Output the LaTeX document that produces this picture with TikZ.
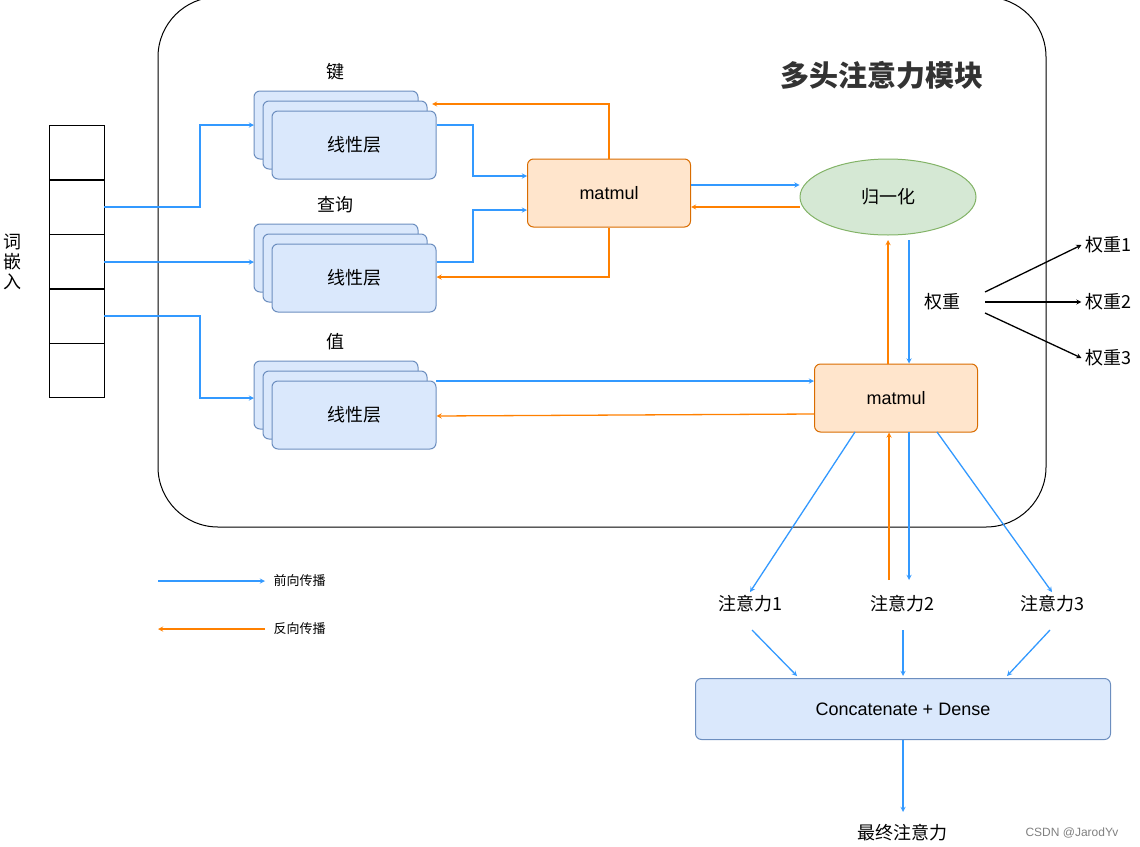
\documentclass[tikz,border=0pt]{standalone}
\usepackage{fontspec}
\setmainfont{Liberation Sans}
\newfontfamily\cjk{Noto Sans CJK SC}
\usetikzlibrary{positioning, shapes.geometric}
\definecolor{fwdblue}{HTML}{3399FF}
\definecolor{bwdorange}{HTML}{FF8000}
\definecolor{layerfill}{HTML}{DAE8FC}
\definecolor{layerdraw}{HTML}{6C8EBF}
\definecolor{normfill}{HTML}{D5E8D4}
\definecolor{normdraw}{HTML}{82B366}
\tikzset{
  layer/.style={draw=layerdraw, fill=layerfill, line width=1pt, rounded corners=6pt, minimum width=164pt, minimum height=68pt},
  mul/.style={draw=orange!85!black, fill=orange!20, line width=1pt, rounded corners=6pt, minimum width=163pt, minimum height=68pt, font=\fontsize{18}{18}\selectfont},
  lbl/.style={font=\cjk\fontsize{18}{18}\selectfont},
  fwd/.style={->, fwdblue, line width=1.3pt, >=stealth},
  bwd/.style={->, bwdorange, line width=1.3pt, >=stealth},
}
\begin{document}
\begin{tikzpicture}[x=1pt, y=-1pt]
  \useasboundingbox (0,0) rectangle (1140,846);
  % module frame
  \draw[line width=1pt, rounded corners=60pt] (158,-3) rectangle (1046,527);
  \node[font=\cjk\bfseries\fontsize{29}{29}\selectfont, text=black!80] (title) at (882,75) {多头注意力模块};

  % embedding column
  \foreach \y in {125,180,234,289,343} {
      \draw[line width=1pt] (49,\y) rectangle (104,\y+54);
    }
  \node[lbl, align=center] (emb) at (12,262) {词\\[2pt]嵌\\[2pt]入};

  % linear layers
  \foreach \name/\y/\txt in {key/145/键, query/278/查询, value/415/值} {
      \node[layer] at (336,\y-20) {};
      \node[layer] at (345,\y-10) {};
      \node[layer, lbl] (\name) at (354,\y) {线性层};
      \node[lbl] (\name-t) at (335,\y-73) {\txt};
    }

  \node[mul] (mm1) at (609,193) {matmul};
  \node[draw=normdraw, fill=normfill, line width=1pt, ellipse, minimum width=176pt, minimum height=76pt, lbl] (norm) at (888,197) {归一化};
  \node[mul] (mm2) at (896,398) {matmul};
  \node[lbl] (w) at (942,302) {权重};
  \foreach \i/\y in {1/245,2/302,3/358} {
      \node[lbl] (w\i) at (1108,\y) {权重\i};
    }
  \coordinate (wsrc) at (985,302);
  \draw[->, line width=1.3pt, >=stealth] (985,292) -- (w1.west);
  \draw[->, line width=1.3pt, >=stealth] (wsrc) -- (w2.west);
  \draw[->, line width=1.3pt, >=stealth] (985,313) -- (w3.west);

  \foreach \i/\x in {1/750,2/902,3/1052} {
      \node[lbl] (a\i) at (\x,604) {注意力\i};
    }
  \node[layer, minimum width=415pt, minimum height=61pt, font=\fontsize{18}{18}\selectfont] (cat) at (903,709) {Concatenate + Dense};
  \node[lbl] (final) at (902,833) {最终注意力};
  \node[font=\fontsize{12}{12}\selectfont, text=gray] (csdn) at (1072,833) {CSDN @JarodYv};

  % forward
  \draw[fwd] (104,207) -- (200,207) |- (254,125);
  \draw[fwd] (104,262) -- (254,262);
  \draw[fwd] (104,316) -- (200,316) |- (254,398);
  \draw[fwd] (key.east |- 0,125) -- (473,125) |- (mm1.west |- 0,176);
  \draw[fwd] (query.east |- 0,262) -- (473,262) |- (mm1.west |- 0,210);
  \draw[fwd] (mm1.east |- 0,185) -- (norm.west |- 0,185);
  \draw[fwd] (909,240) -- (mm2.north -| 909,0);
  \draw[fwd] (436,381) -- (mm2.west |- 0,381);
  \draw[fwd] (855,432) -- (a1.north);
  \draw[fwd] (909,432) -- (909,580);
  \draw[fwd] (937,432) -- (a3.north);
  \draw[fwd] (752,630) -- (797,676);
  \draw[fwd] (903,630) -- (903,676);
  \draw[fwd] (1050,630) -- (1007,676);
  \draw[fwd] (cat.south) -- (903,812);

  % backward
  \draw[bwd] (mm1.north) |- (432,104);
  \draw[bwd] (mm1.south) |- (key.east |- 0,277);
  \draw[bwd] (norm.west |- 0,207) -- (mm1.east |- 0,207);
  \draw[bwd] (888,364) -- (888,240);
  \draw[bwd] (mm2.west |- 0,414) -- (value.east |- 0,416);
  \draw[bwd] (889,580) -- (mm2.south -| 889,0);

  % legend
  \draw[fwd] (158,581) -- (265,581);
  \node[font=\cjk\fontsize{13}{13}\selectfont, right] (lf) at (270,581) {前向传播};
  \draw[bwd] (265,629) -- (158,629);
  \node[font=\cjk\fontsize{13}{13}\selectfont, right] (lb) at (270,629) {反向传播};
\end{tikzpicture}
\end{document}
